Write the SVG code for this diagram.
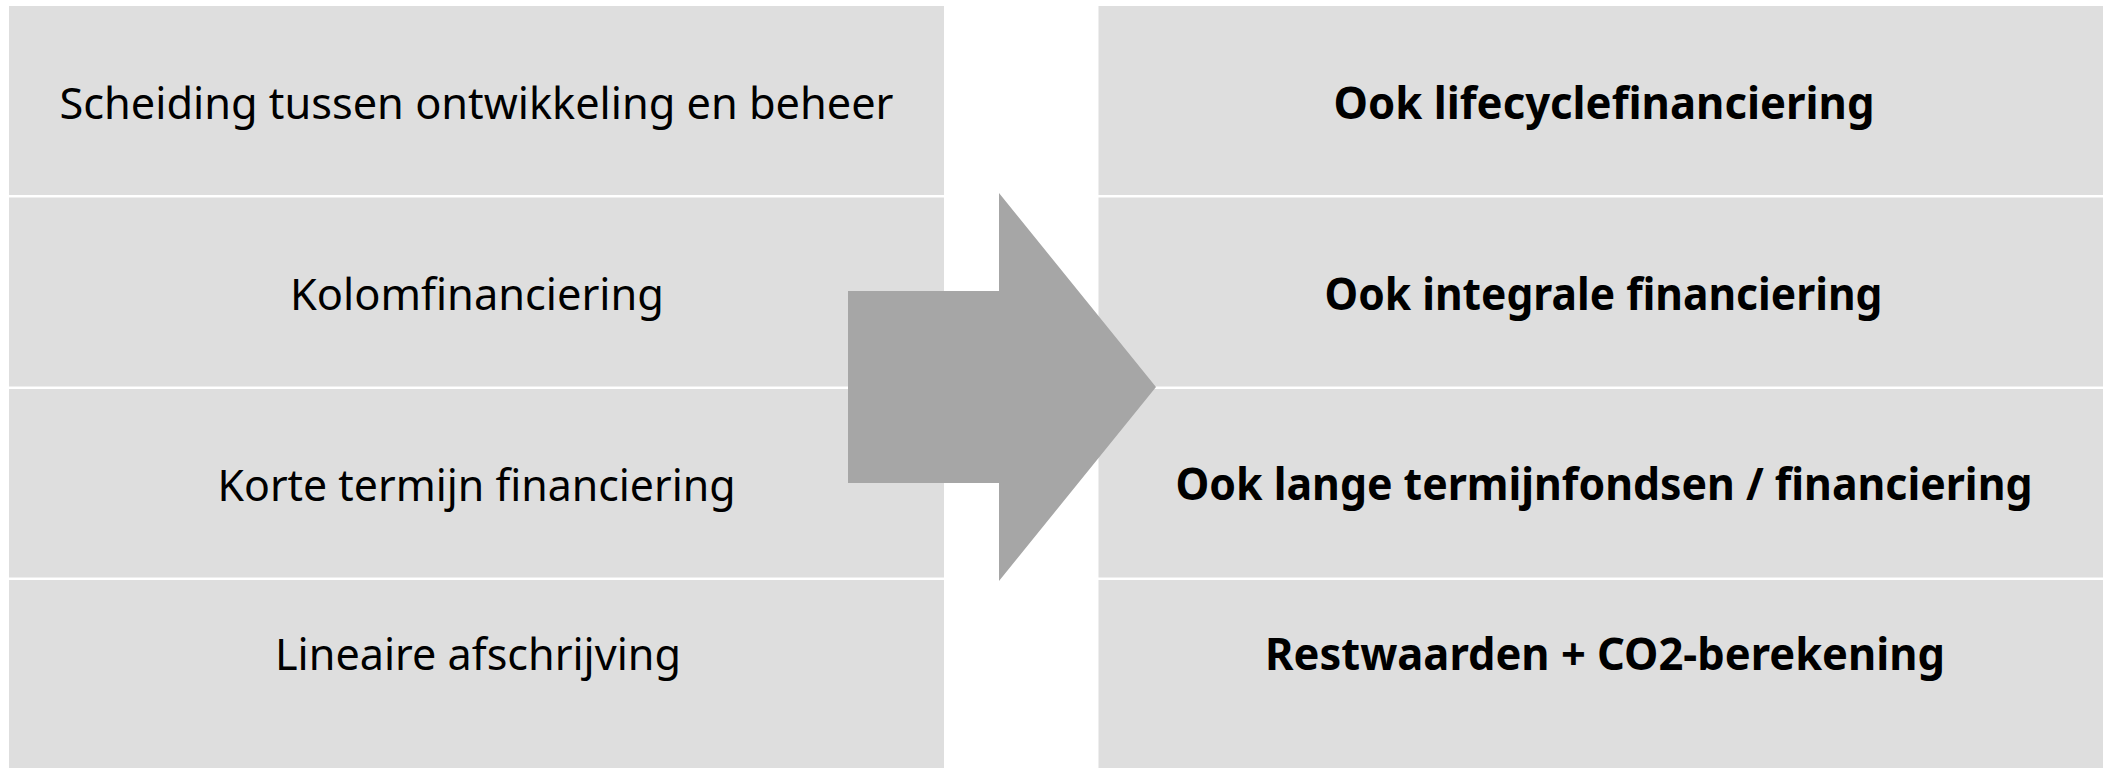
<svg xmlns="http://www.w3.org/2000/svg" width="2103" height="768" viewBox="0 0 2103 768">
<style>
.cell{fill:#DEDEDE}
.t{font-family:"Noto Sans","Liberation Sans",sans-serif;font-size:44px;fill:#000;text-anchor:middle}
.b{font-weight:bold}
</style>
<rect width="2103" height="768" fill="#FFFFFF"/>
<g id="left-1"><rect class="cell" x="9" y="6" width="935" height="189"/><text class="t" x="476.5" y="119" textLength="834" lengthAdjust="spacingAndGlyphs">Scheiding tussen ontwikkeling en beheer</text></g>
<g id="left-2"><rect class="cell" x="9" y="197.5" width="935" height="189"/><text class="t" x="477" y="309.5" textLength="374" lengthAdjust="spacingAndGlyphs">Kolomfinanciering</text></g>
<g id="left-3"><rect class="cell" x="9" y="389" width="935" height="188.5"/><text class="t" x="476.5" y="501" textLength="518" lengthAdjust="spacingAndGlyphs">Korte termijn financiering</text></g>
<g id="left-4"><rect class="cell" x="9" y="580" width="935" height="190"/><text class="t" x="478" y="669.5" textLength="406" lengthAdjust="spacingAndGlyphs">Lineaire afschrijving</text></g>
<g id="right-1"><rect class="cell" x="1098.5" y="6" width="1006" height="189"/><text class="t b" x="1604" y="119" textLength="541" lengthAdjust="spacingAndGlyphs">Ook lifecyclefinanciering</text></g>
<g id="right-2"><rect class="cell" x="1098.5" y="197.5" width="1006" height="189"/><text class="t b" x="1603.5" y="310" textLength="558" lengthAdjust="spacingAndGlyphs">Ook integrale financiering</text></g>
<g id="right-3"><rect class="cell" x="1098.5" y="389" width="1006" height="188.5"/><text class="t b" x="1604" y="500" textLength="857" lengthAdjust="spacingAndGlyphs">Ook lange termijnfondsen / financiering</text></g>
<g id="right-4"><rect class="cell" x="1098.5" y="580" width="1006" height="190"/><text class="t b" x="1605" y="669.5" textLength="680" lengthAdjust="spacingAndGlyphs">Restwaarden + CO2-berekening</text></g>
<g id="connectors">
<polygon id="arrow" points="848,291 999,291 999,193 1156,387 999,581 999,483 848,483" fill="#A6A6A6"/>
</g>
</svg>
